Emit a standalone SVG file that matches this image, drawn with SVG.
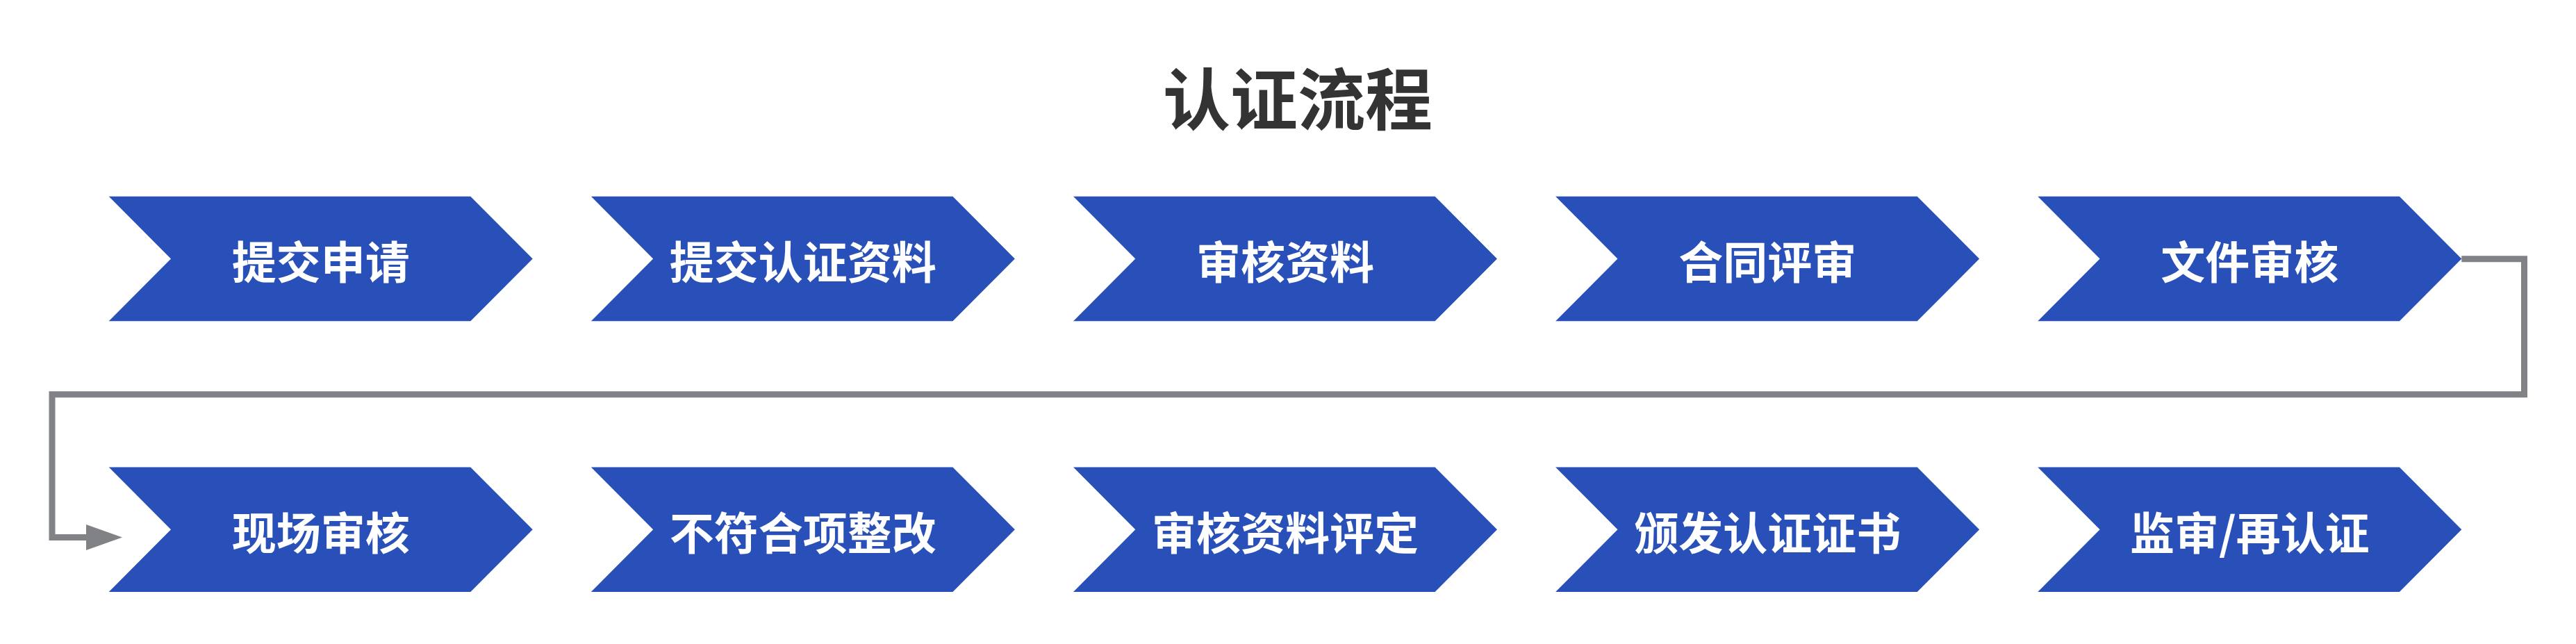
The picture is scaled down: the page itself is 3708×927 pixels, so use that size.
<svg xmlns="http://www.w3.org/2000/svg" width="3708" height="927" viewBox="0 0 3708 927">
<style>
.chev{fill:#2950B9}
.node text{fill:#FFFFFF;font-family:"Noto Sans CJK SC","Microsoft YaHei",sans-serif;font-weight:700;font-size:64px;text-anchor:middle;dominant-baseline:central}
.title{fill:#333333;font-family:"Noto Sans CJK SC",sans-serif;font-weight:700;font-size:97px;text-anchor:middle;dominant-baseline:central}
.conn{fill:none;stroke:#808285;stroke-width:9;stroke-linejoin:miter}
</style>
<defs>
<polygon id="chev" class="chev" points="0,0 520.6,0 610,89.8 520.6,179.6 0,179.6 89.3,89.8"/>
<marker id="arr" markerUnits="userSpaceOnUse" markerWidth="52" markerHeight="37" refX="0" refY="18.5" orient="auto" viewBox="0 0 52 37">
<path d="M0,0 L52,18.5 L0,37 Z" fill="#808285"/>
</marker>
</defs>
<rect width="3708" height="927" fill="#FFFFFF"/>
<text id="title" class="title" x="1868" y="136">认证流程</text>
<g id="connectors">
<path class="conn" d="M3543.3,372.8 H3633.5 V567.8 H75 V773.5 H124" marker-end="url(#arr)"/>
</g>
<g id="n1" class="node" transform="translate(156.7,282.7)"><use href="#chev"/><text x="305" y="90">提交申请</text></g>
<g id="n2" class="node" transform="translate(850.85,282.7)"><use href="#chev"/><text x="305" y="90">提交认证资料</text></g>
<g id="n3" class="node" transform="translate(1545,282.7)"><use href="#chev"/><text x="305" y="90">审核资料</text></g>
<g id="n4" class="node" transform="translate(2239.15,282.7)"><use href="#chev"/><text x="305" y="90">合同评审</text></g>
<g id="n5" class="node" transform="translate(2933.3,282.7)"><use href="#chev"/><text x="305" y="90">文件审核</text></g>
<g id="n6" class="node" transform="translate(156.7,672.5)"><use href="#chev"/><text x="305" y="90">现场审核</text></g>
<g id="n7" class="node" transform="translate(850.85,672.5)"><use href="#chev"/><text x="305" y="90">不符合项整改</text></g>
<g id="n8" class="node" transform="translate(1545,672.5)"><use href="#chev"/><text x="305" y="90">审核资料评定</text></g>
<g id="n9" class="node" transform="translate(2239.15,672.5)"><use href="#chev"/><text x="305" y="90">颁发认证证书</text></g>
<g id="n10" class="node" transform="translate(2933.3,672.5)"><use href="#chev"/><text x="305" y="90">监审/再认证</text></g>
</svg>
